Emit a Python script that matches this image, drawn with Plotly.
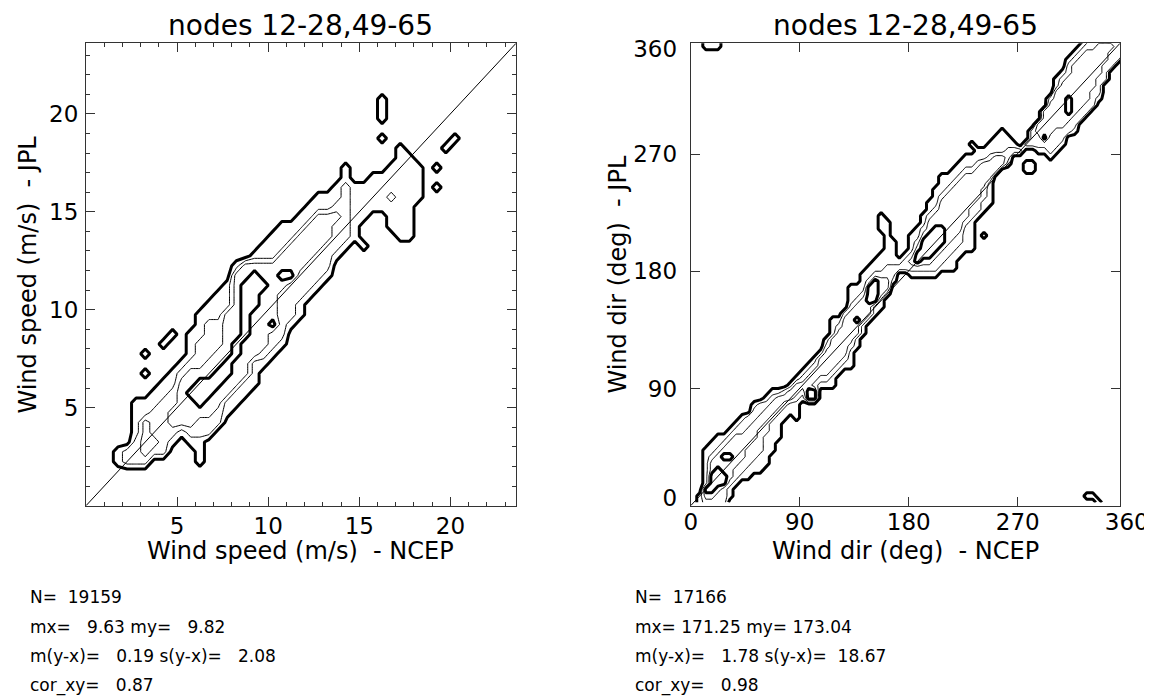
import numpy as np
import plotly.graph_objects as go

# ---------------- text ----------------
TITLE = "nodes 12-28,49-65"
SPD_XTITLE = "Wind speed (m/s)  - NCEP"
SPD_YTITLE = "Wind speed (m/s)  - JPL"
DIR_XTITLE = "Wind dir (deg)  - NCEP"
DIR_YTITLE = "Wind dir (deg)  - JPL"
SPD_STATS = ["N=  19159", "mx=   9.63 my=   9.82",
             "m(y-x)=   0.19 s(y-x)=   2.08", "cor_xy=   0.87"]
DIR_STATS = ["N=  17166", "mx= 171.25 my= 173.04",
             "m(y-x)=   1.78 s(y-x)=  18.67", "cor_xy=   0.98"]

# ---------------- axes ----------------
SPD_RANGE = [0, 23.6]
SPD_TICKS = [5, 10, 15, 20]
DIR_RANGE = [0, 355]
DIR_TICKS = [0, 90, 180, 270, 360]
DIR_YLABEL_POS = [5.9, 90, 180, 270, 350.5]

# ---------------- density regions ----------------
# wind speed, level 1 (outer contour)
SPD_L1_MAIN = [(1.56, 1.74), (1.36, 2.74), (1.76, 3.05), (2.45, 3.23), (2.45, 5.11), (2.85, 5.6),
               (3.55, 5.56), (3.65, 6.2), (4.05, 6.3), (4.74, 6.75), (5.14, 7.39), (5.74, 7.66),
               (5.74, 9.12), (6.23, 9.57), (6.33, 10.58), (7.13, 10.85), (7.53, 11.49), (7.92, 11.67),
               (8.12, 12.3), (9.32, 12.85), (9.71, 13.2), (10.1, 13.86), (10.6, 13.95), (10.7, 14.5),
               (11.7, 14.7), (12.2, 15.2), (12.7, 15.86), (13.5, 16.3), (14.0, 16.86), (14.2, 17.5),
               (14.6, 17.2), (14.7, 16.3), (15.4, 16.4), (15.5, 16.96), (16.1, 17.2), (16.3, 17.05),
               (16.9, 17.6), (17.4, 18.0), (18.0, 17.9), (18.3, 17.2), (18.7, 16.7), (18.5, 15.95),
               (17.9, 15.2), (18.1, 14.1), (17.3, 13.2), (16.5, 14.4), (16.3, 14.95), (15.5, 15.0),
               (15.4, 14.6), (14.9, 13.9), (14.4, 13.2), (13.9, 12.5), (13.4, 11.9), (13.1, 11.4),
               (12.7, 10.67), (12.2, 10.3), (11.9, 9.76), (11.5, 9.4), (11.2, 8.85), (10.8, 8.3),
               (10.5, 7.75), (9.9, 7.2), (9.5, 6.5), (8.9, 5.8), (8.3, 5.2), (7.8, 4.5), (7.0, 3.7),
               (6.6, 3.2), (6.45, 2.3), (6.35, 1.8), (6.1, 1.9), (5.95, 2.8), (5.44, 3.47),
               (4.74, 3.2), (4.14, 2.83), (3.65, 2.38), (2.95, 2.1), (2.25, 2.1), (1.96, 1.92)]
SPD_L1_ISLANDS = [
    [(3.0, 7.3), (3.0, 8.0), (3.6, 8.0), (3.6, 7.3)],
    [(3.1, 6.6), (3.1, 6.9), (3.4, 6.9), (3.4, 6.6)],
    [(4.1, 8.1), (4.1, 8.4), (4.4, 8.4), (4.4, 8.1)],
    [(4.6, 8.6), (4.6, 8.9), (4.9, 8.9), (4.9, 8.6)],
    [(15.1, 13.1), (15.1, 13.4), (15.4, 13.4), (15.4, 13.1)],
    [(16.1, 19.6), (16.1, 20.9), (16.4, 20.9), (16.4, 19.6)],
    [(16.1, 18.6), (16.1, 18.9), (16.4, 18.9), (16.4, 18.6)],
    [(17.1, 18.1), (17.1, 18.4), (17.4, 18.4), (17.4, 18.1)],
    [(19.1, 17.1), (19.1, 17.4), (19.4, 17.4), (19.4, 17.1)],
    [(20.1, 18.6), (20.1, 18.9), (20.4, 18.9), (20.4, 18.6)],
    [(19.1, 16.1), (19.1, 16.4), (19.4, 16.4), (19.4, 16.1)],
    [(19.6, 18.1), (19.6, 18.4), (19.9, 18.4), (19.9, 18.1)],
]
# level 2
SPD_L2 = [
    [(1.9, 1.95), (1.9, 2.6), (2.5, 3.0), (2.9, 3.7), (3.0, 4.4), (3.5, 4.8), (4.1, 4.8), (4.3, 5.5),
     (4.7, 6.0), (5.0, 6.5), (5.4, 7.0), (5.7, 7.5), (5.9, 8.0), (6.3, 8.5), (6.6, 9.0), (6.9, 9.5),
     (7.7, 10.0), (8.4, 10.5), (9.3, 11.0), (9.7, 11.5), (10.2, 12.0), (10.8, 12.5), (11.3, 13.0),
     (11.8, 13.5), (12.4, 14.0), (13.0, 14.5), (13.5, 15.0), (13.9, 15.5), (14.1, 16.0), (14.3, 16.7),
     (14.45, 16.2), (14.6, 15.5), (14.75, 14.7), (14.8, 14.5), (14.5, 14.0), (14.2, 13.5), (13.8, 13.0),
     (13.5, 12.5), (13.2, 12.0), (12.8, 11.5), (12.4, 11.0), (11.9, 10.5), (11.6, 10.0), (11.2, 9.5),
     (11.0, 9.0), (10.6, 8.5), (10.1, 8.0), (9.5, 7.5), (9.0, 7.0), (8.5, 6.4), (8.0, 5.8),
     (7.6, 5.0), (7.3, 4.2), (7.0, 3.4), (6.5, 3.3), (6.1, 3.5), (5.3, 3.8), (4.6, 3.4),
     (4.25, 2.5), (3.5, 2.2), (2.4, 2.2)],
    [(1.5, 2.3), (1.5, 2.8), (1.9, 2.6)],
    [(16.6, 15.6), (16.6, 15.9), (16.9, 15.9), (16.9, 15.6)],
]
# level 3
SPD_L3 = [
    [(4.6, 4.3), (4.8, 5.3), (5.3, 6.4), (6.3, 7.2), (7.3, 8.2), (7.7, 9.4), (7.9, 11.0), (8.3, 12.2),
     (9.5, 12.6), (10.5, 12.7), (11.3, 13.5), (12.2, 14.3), (13.0, 15.0), (13.6, 15.4), (13.9, 14.8),
     (13.5, 13.9), (12.8, 13.0), (12.0, 12.0), (11.0, 11.1), (10.5, 10.4), (10.2, 9.5), (9.8, 8.3),
     (9.2, 7.3), (8.5, 6.4), (7.8, 5.6), (7.0, 4.7), (6.0, 4.1), (5.2, 4.0)],
    [(2.8, 3.5), (3.3, 4.5), (3.9, 3.5), (3.4, 2.4)],
]
# level 4 (inner thick)
SPD_L4 = [
    [(5.54, 5.38), (5.74, 6.1), (7.13, 6.84), (8.12, 7.75), (8.42, 9.39), (8.62, 11.4), (9.32, 11.85),
     (9.81, 11.4), (9.5, 10.3), (8.9, 9.0), (8.3, 7.4), (7.3, 6.1), (6.23, 5.02)],
    [(10.1, 9.1), (10.1, 9.4), (10.4, 9.4), (10.4, 9.1)],
    [(10.6, 11.6), (10.6, 11.9), (11.4, 11.9), (11.4, 11.6)],
]

# wind direction
DIR_L1_MAIN = [(5, -5), (5.2, 0), (7.7, 12), (9.1, 32.6), (10.4, 41.5), (13.2, 46.6), (18.7, 53),
               (26.9, 55.6), (32.5, 60.7), (40.7, 65.8), (46.2, 71), (54.5, 79.9), (62.8, 86.3),
               (68.2, 88.9), (78, 89.5), (87, 100), (96, 106), (105.5, 120), (114.6, 131),
               (114.6, 141.7), (123.7, 147), (130, 155.5), (130, 166), (139, 172), (142, 180),
               (151, 188), (157, 191), (160, 200), (157, 213), (154, 221), (157, 224), (163, 221),
               (166, 210), (169, 202), (172, 191), (178, 194), (181, 207.6), (190.5, 221),
               (196.7, 235), (205.8, 251.6), (215, 257), (227, 268), (239, 274), (248, 279),
               (257.4, 290), (263, 285), (270, 274), (275.6, 279), (288, 298), (297, 312),
               (300, 325.7), (306, 334), (315, 348), (324, 356), (326, 362), (362, 362),
               (362, 356), (354.7, 353), (342.6, 325.7), (336.5, 309), (324, 298), (318, 287),
               (312, 284.5), (306, 273.6), (300, 265), (288, 270.8), (279, 274), (272, 271),
               (266, 268), (263.5, 260), (254, 257), (248, 240.6), (248, 229.6), (239, 224),
               (233, 213), (233, 196.6), (224, 196.6), (221, 185.7), (215, 177.5), (209, 180),
               (200, 174.7), (190.5, 172), (184.5, 174.7), (178, 177.5), (172, 180), (169, 172),
               (163, 161), (157, 150), (148, 141.7), (142, 128), (136, 117), (133, 106),
               (123.7, 100.5), (117.6, 92), (110, 90), (101, 82), (93, 78), (85, 71), (75, 63),
               (72, 48), (65.5, 35), (57, 27), (50, 21), (41, 17), (34, 11), (31, 0), (31, -5)]
DIR_L1_ISLANDS = [
    [(275, 254), (275, 264), (283, 264), (283, 254)],
    [(230, 273), (230, 280), (236, 280), (236, 273)],
    [(241, 203), (241, 209), (247, 209), (247, 203)],
    [(86, 67), (86, 73), (92, 73), (92, 67)],
    [(8, 349), (8, 365), (24, 365), (24, 349)],
    [(327, 3), (327, 11), (334, 11), (334, 3)],
    [(333, -5), (333, 4), (339, 4), (339, -5)],
]
DIR_L2 = [
    [(12, -5), (13, 20), (17, 40), (28, 52), (40, 62), (52, 72), (62, 82), (75, 86), (88, 95),
     (100, 106), (108, 118), (118, 132), (125, 145), (135, 158), (145, 170), (150, 178), (162, 183),
     (175, 186), (185, 200), (192, 212), (200, 228), (210, 245), (222, 256), (235, 264), (248, 270),
     (262, 273), (275, 278), (290, 300), (300, 318), (308, 332), (318, 345), (330, 356), (340, 362),
     (362, 362), (362, 350), (350, 340), (340, 322), (332, 306), (320, 292), (308, 283), (300, 272),
     (290, 274), (278, 275), (268, 270), (258, 262), (248, 252), (242, 235), (236, 224), (226, 212),
     (224, 202), (212, 190), (200, 180), (190, 178), (178, 182), (168, 176), (160, 165), (152, 152),
     (145, 143), (138, 130), (131, 116), (122, 104), (112, 96), (100, 88), (88, 82), (78, 77),
     (70, 70), (64, 58), (60, 44), (52, 35), (44, 28), (36, 20), (30, 10), (26, -5)],
]
DIR_L3 = [
    [(12, 5), (15, 30), (25, 45), (40, 55), (55, 68), (65, 78), (80, 88), (95, 98), (105, 110),
     (115, 125), (125, 140), (135, 152), (148, 168), (160, 178), (165, 168), (150, 150), (140, 135),
     (130, 120), (120, 108), (110, 100), (95, 90), (80, 80), (65, 70), (55, 55), (45, 40), (35, 25),
     (25, 12), (20, 3)],
    [(180, 185), (190, 205), (205, 230), (220, 248), (240, 262), (258, 270), (262, 262), (245, 248),
     (232, 228), (222, 210), (210, 195), (195, 185)],
    [(285, 290), (300, 315), (315, 335), (330, 350), (345, 358), (350, 352), (340, 335), (330, 315),
     (318, 300), (305, 290), (292, 283)],
]
DIR_L4 = [
    [(11, 8), (13, 20), (16, 24), (23, 30), (30, 26), (31, 19), (27, 16), (20, 13), (16, 7)],
    [(27, 33), (27, 40), (33, 40), (33, 33)],
    [(94, 82), (94, 92), (104, 92), (104, 82)],
    [(143, 158), (145, 170), (153, 173), (157, 163), (152, 154)],
    [(133, 139), (133, 145), (139, 145), (139, 139)],
    [(183, 188), (188, 198), (198, 210), (206, 218), (212, 212), (208, 200), (198, 192), (190, 186)],
    [(291, 279), (291, 285), (297, 285), (297, 279)],
    [(309, 298), (309, 315), (317, 315), (317, 298)],
]

SPD_BIN = 0.5
DIR_BIN = 5.0


def inside(poly, X, Y):
    px = np.array([p[0] for p in poly], float)
    py = np.array([p[1] for p in poly], float)
    res = np.zeros(X.shape, bool)
    j = len(poly) - 1
    for i in range(len(poly)):
        xi, yi, xj, yj = px[i], py[i], px[j], py[j]
        if yi != yj:
            cross = (yi > Y) != (yj > Y)
            xint = (xj - xi) * (Y - yi) / (yj - yi) + xi
            res ^= cross & (X < xint)
        j = i
    return res


def level_grid(centers, levels):
    X, Y = np.meshgrid(centers, centers)
    z = np.zeros(X.shape)
    for lev, polys in levels:
        for poly in polys:
            z = np.where(inside(poly, X, Y), np.maximum(z, lev), z)
    return z


spd_c = np.arange(SPD_BIN / 2, SPD_RANGE[1], SPD_BIN)
dir_c = np.arange(DIR_BIN / 2, 360, DIR_BIN)
z_spd = level_grid(spd_c, [(1, [SPD_L1_MAIN] + SPD_L1_ISLANDS), (2, SPD_L2), (3, SPD_L3), (4, SPD_L4)])
z_dir = level_grid(dir_c, [(1, [DIR_L1_MAIN] + DIR_L1_ISLANDS), (2, DIR_L2), (3, DIR_L3), (4, DIR_L4)])

# page geometry: the html body has an 8px margin, so the figure is offset by 8px
PAGE_OFF = 8
W, H = 1152 - PAGE_OFF, 696 - PAGE_OFF
FONT = "DejaVu Sans"


def px_x(v):
    return (v - PAGE_OFF) / W


def px_y(v):
    return 1 - (v - PAGE_OFF) / H


BOX_TOP, BOX_BOT = 43.3, 505.7
L_X0, L_X1 = 86, 516
R_X0, R_X1 = 690.7, 1120
R_X360 = 1126.7
R_Y360 = 36.8

fig = go.Figure()


def add_contours(xc, z, xa, ya):
    fig.add_trace(go.Contour(x=xc, y=xc, z=z, xaxis=xa, yaxis=ya, showscale=False,
                             autocontour=False, hoverinfo="skip",
                             contours=dict(start=1.5, end=2.5, size=1, coloring="none"),
                             line=dict(color="black", width=1, smoothing=0)))
    fig.add_trace(go.Contour(x=xc, y=xc, z=z, xaxis=xa, yaxis=ya, showscale=False,
                             autocontour=False, hoverinfo="skip",
                             contours=dict(start=0.5, end=3.5, size=3, coloring="none"),
                             line=dict(color="black", width=3, smoothing=0)))


add_contours(spd_c, z_spd, "x", "y")
add_contours(dir_c, z_dir, "x2", "y2")

# one-to-one lines
fig.add_trace(go.Scatter(x=SPD_RANGE, y=SPD_RANGE, mode="lines", line=dict(color="black", width=1),
                         xaxis="x", yaxis="y", hoverinfo="skip", showlegend=False))
fig.add_trace(go.Scatter(x=DIR_RANGE, y=DIR_RANGE, mode="lines", line=dict(color="black", width=1),
                         xaxis="x2", yaxis="y2", hoverinfo="skip", showlegend=False))
# empty traces so that the tick-only direction axes are drawn
fig.add_trace(go.Scatter(x=[], y=[], xaxis="x3", yaxis="y2", showlegend=False, hoverinfo="skip"))
fig.add_trace(go.Scatter(x=[], y=[], xaxis="x2", yaxis="y3", showlegend=False, hoverinfo="skip"))

AX = "#333333"
tickfont = dict(family=FONT, size=23, color="black")
spd_axis = dict(range=SPD_RANGE, showline=True, linecolor=AX, linewidth=1, mirror="ticks",
                ticks="inside", ticklen=9, tickwidth=1, tickcolor=AX,
                tickvals=SPD_TICKS, tickfont=tickfont, showgrid=False, zeroline=False,
                automargin=False,
                minor=dict(dtick=1, tick0=0, ticks="inside", ticklen=4, tickcolor=AX, showgrid=False))

fig.update_layout(
    width=W, height=H, margin=dict(l=0, r=0, t=0, b=0, autoexpand=False),
    paper_bgcolor="white", plot_bgcolor="rgba(0,0,0,0)", showlegend=False,
    xaxis=dict(domain=[px_x(L_X0), px_x(L_X1)], anchor="y", ticklabelstandoff=0, **spd_axis),
    yaxis=dict(domain=[px_y(BOX_BOT), px_y(BOX_TOP)], anchor="x", ticklabelstandoff=2, **spd_axis),
    xaxis2=dict(domain=[px_x(R_X0), px_x(R_X1)], anchor="y2", range=DIR_RANGE, showline=True,
                linecolor=AX, linewidth=1, mirror=True, ticks="", showticklabels=False,
                showgrid=False, zeroline=False, automargin=False),
    yaxis2=dict(domain=[px_y(BOX_BOT), px_y(BOX_TOP)], anchor="x2", range=DIR_RANGE, showline=True,
                linecolor=AX, linewidth=1, mirror=True, ticks="", tickvals=DIR_YLABEL_POS,
                ticktext=[str(t) for t in DIR_TICKS], tickfont=tickfont, ticklabelstandoff=8,
                showgrid=False, zeroline=False, automargin=False),
    xaxis3=dict(domain=[px_x(R_X0), px_x(R_X360)], anchor="y2", range=[0, 360], showline=False,
                ticks="inside", ticklen=9, tickwidth=1, tickcolor=AX, mirror="ticks",
                tickvals=DIR_TICKS, tickfont=tickfont, ticklabelstandoff=0,
                showgrid=False, zeroline=False, automargin=False),
    yaxis3=dict(domain=[px_y(BOX_BOT), px_y(R_Y360)], anchor="x2", range=[0, 360], showline=False,
                ticks="inside", ticklen=9, tickwidth=1, tickcolor=AX, mirror="ticks",
                tickvals=DIR_TICKS, showticklabels=False, showgrid=False, zeroline=False,
                automargin=False),
)

ann = []
tfont = dict(family=FONT, size=28, color="black")
afont = dict(family=FONT, size=24, color="black")
sfont = dict(family=FONT, size=17, color="black")


def nb(s):
    return s.replace(" ", "\u00a0")


for cx in [(L_X0 + L_X1) / 2, (R_X0 + R_X1) / 2]:
    ann.append(dict(text=TITLE, x=px_x(cx), y=px_y(25), xref="paper", yref="paper",
                    showarrow=False, font=tfont, xanchor="center", yanchor="middle"))
ann.append(dict(text=nb(SPD_XTITLE), x=px_x((L_X0 + L_X1) / 2), y=px_y(551), xref="paper",
                yref="paper", showarrow=False, font=afont, xanchor="center", yanchor="middle"))
ann.append(dict(text=nb(DIR_XTITLE), x=px_x((R_X0 + R_X1) / 2), y=px_y(551), xref="paper",
                yref="paper", showarrow=False, font=afont, xanchor="center", yanchor="middle"))
ann.append(dict(text=nb(SPD_YTITLE), x=px_x(27), y=px_y((BOX_TOP + BOX_BOT) / 2), xref="paper",
                yref="paper", showarrow=False, font=afont, textangle=-90,
                xanchor="center", yanchor="middle"))
ann.append(dict(text=nb(DIR_YTITLE), x=px_x(617), y=px_y((BOX_TOP + BOX_BOT) / 2), xref="paper",
                yref="paper", showarrow=False, font=afont, textangle=-90,
                xanchor="center", yanchor="middle"))
STAT_Y = [597, 626.5, 656, 685]
for x0, lines in [(28, SPD_STATS), (633, DIR_STATS)]:
    for yy, line in zip(STAT_Y, lines):
        ann.append(dict(text=nb(line), x=px_x(x0), y=px_y(yy), xref="paper", yref="paper",
                        showarrow=False, font=sfont, xanchor="left", yanchor="middle"))
fig.update_layout(annotations=ann)

fig.write_html("out.html")
